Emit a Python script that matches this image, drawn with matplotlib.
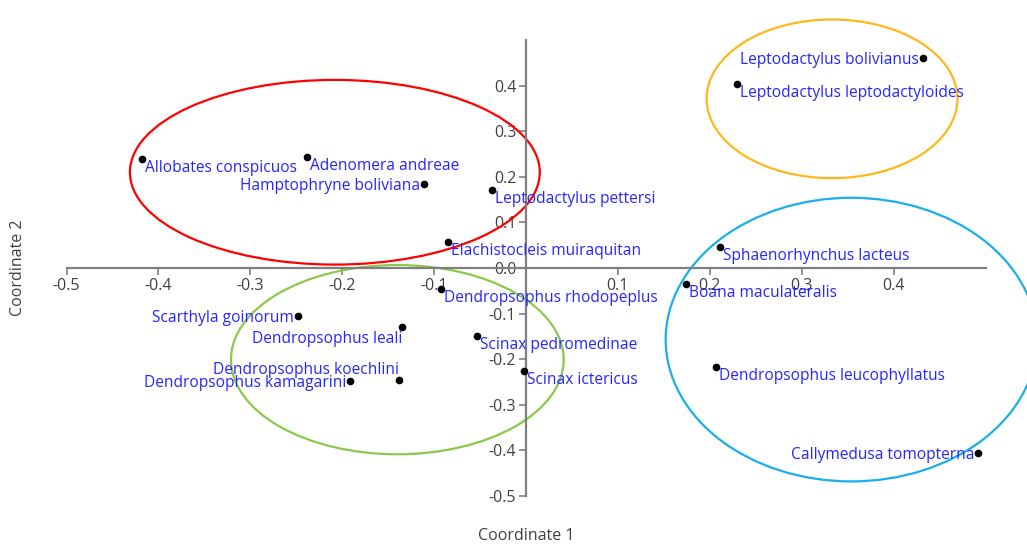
import matplotlib
matplotlib.use("Agg")
import matplotlib.pyplot as plt
from matplotlib.patches import Ellipse

plt.rcParams['font.family'] = ['Open Sans', 'DejaVu Sans']
plt.rcParams['axes.unicode_minus'] = False

# Coordenadas de cada especie (Coordinate 1, Coordinate 2)
species = [
    'Allobates conspicuos', 'Adenomera andreae', 'Hamptophryne boliviana',
    'Leptodactylus pettersi', 'Elachistocleis muiraquitan',
    'Leptodactylus bolivianus', 'Leptodactylus leptodactyloides',
    'Sphaenorhynchus lacteus', 'Dendropsophus rhodopeplus', 'Boana maculateralis',
    'Scarthyla goinorum', 'Dendropsophus leali', 'Dendropsophus koechlini',
    'Dendropsophus kamagarini', 'Scinax pedromedinae', 'Scinax ictericus',
    'Dendropsophus leucophyllatus', 'Callymedusa tomopterna',
]
coord1 = [-0.418, -0.238, -0.111, -0.037, -0.085,
          0.432, 0.230, 0.211, -0.093, 0.174,
          -0.248, -0.135, -0.138, -0.191, -0.053, -0.002,
          0.207, 0.492]
coord2 = [0.239, 0.244, 0.184, 0.170, 0.057,
          0.461, 0.404, 0.045, -0.046, -0.036,
          -0.106, -0.129, -0.245, -0.247, -0.150, -0.226,
          -0.217, -0.405]

# Grupos (elipses): centro, ancho, alto
ell_cx = [-0.208, 0.333, -0.140, 0.354]
ell_cy = [0.210, 0.371, -0.201, -0.157]
ell_w = [0.446, 0.273, 0.362, 0.404]
ell_h = [0.405, 0.348, 0.415, 0.622]
ell_colors = ['#FF0000', '#FFB81C', '#8CC84B', '#1AAFEA']

# Posicion de la etiqueta respecto al punto (pixeles)
left_center = (-4, -2, 'right')
right_below = (3, -9, 'left')
label_off = {
    'Hamptophryne boliviana': left_center,
    'Leptodactylus bolivianus': left_center,
    'Scarthyla goinorum': left_center,
    'Dendropsophus kamagarini': left_center,
    'Callymedusa tomopterna': left_center,
    'Dendropsophus leali': (0, -12, 'right'),
    'Dendropsophus koechlini': (0, 10, 'right'),
}

fig = plt.figure(figsize=(10.27, 5.46), dpi=100)
ax = fig.add_axes([66.5 / 1027, 50 / 546, 919 / 1027, 456 / 546])
ax.set_xlim(-0.5, 0.5)
ax.set_ylim(-0.5, 0.5)

for cx, cy, w, h, c in zip(ell_cx, ell_cy, ell_w, ell_h, ell_colors):
    ax.add_patch(Ellipse((cx, cy), w, h, fill=False, edgecolor=c,
                         linewidth=1.6, clip_on=False, zorder=2))

ax.plot(coord1, coord2, 'o', color='black', markersize=4.5, zorder=4,
        clip_on=False)
for name, x, y in zip(species, coord1, coord2):
    dx, dy, ha = label_off.get(name, right_below)
    ax.annotate(name, (x, y), xytext=(dx, dy), textcoords='offset pixels',
                ha=ha, va='center', color='#2525FF', fontsize=11.2,
                zorder=5, annotation_clip=False)

# Ejes cruzando en el origen
for side in ['top', 'right']:
    ax.spines[side].set_visible(False)
for side in ['left', 'bottom']:
    ax.spines[side].set_position(('data', 0))
    ax.spines[side].set_color('#808080')
    ax.spines[side].set_linewidth(1.6)

xt = [-0.5, -0.4, -0.3, -0.2, -0.1, 0.1, 0.2, 0.3, 0.4]
yt = [-0.5, -0.4, -0.3, -0.2, -0.1, 0.0, 0.1, 0.2, 0.3, 0.4]
ax.set_xticks(xt)
ax.set_xticklabels([f'{v:.1f}' for v in xt])
ax.set_yticks(yt)
ax.set_yticklabels([f'{v:.1f}' for v in yt])
ax.tick_params(colors='#808080', labelcolor='#404040', labelsize=11.5,
               length=5, width=1.2, pad=2)
ax.patch.set_visible(False)

fig.text(526 / 1027, 1 - 536 / 546, 'Coordinate 1', ha='center', va='center',
         fontsize=11.5, color='#404040')
fig.text(18 / 1027, 1 - 268 / 546, 'Coordinate 2', ha='center', va='center',
         rotation=90, fontsize=11.5, color='#404040')

fig.savefig('out.png', dpi=100)
